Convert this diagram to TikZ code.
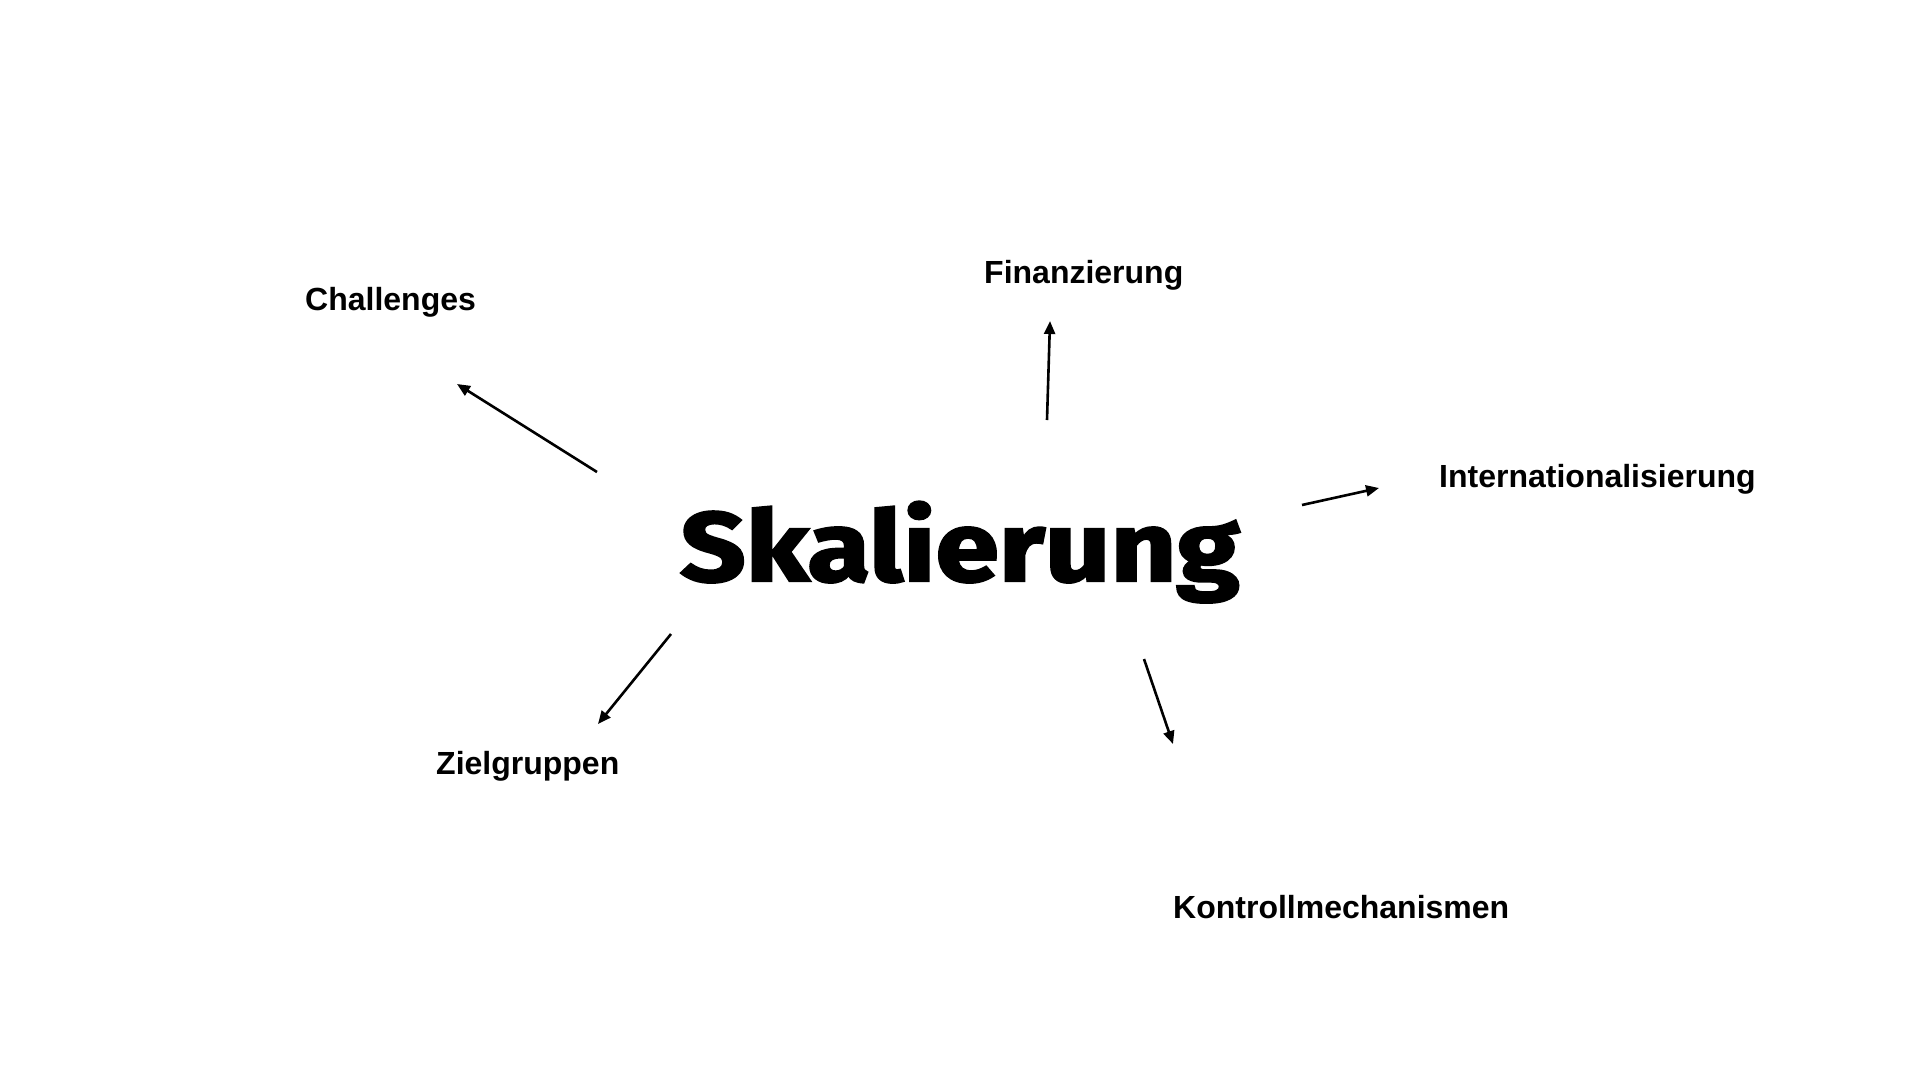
\documentclass[tikz,border=0pt]{standalone}
\usepackage{fontspec}
\setmainfont{Liberation Sans}
\newfontfamily\titlefont{Fira Sans}[FakeBold=2.5, FakeStretch=1.17]
\usetikzlibrary{arrows.meta}

\tikzset{
    topic/.style={anchor=base west, inner sep=0pt,
        font=\bfseries\fontsize{32}{38}\selectfont},
    link/.style={line width=2.6pt, -{Triangle[length=13pt,width=11pt]}}
}

\begin{document}
\begin{tikzpicture}[x=1pt,y=-1pt]
    \useasboundingbox (0,0) rectangle (1920,1080);
    % centre word
    \node[anchor=base west, inner sep=0pt,
          font=\titlefont\bfseries\fontsize{98}{104}\selectfont] (skalierung) at (680,581) {Skalierung};
    % topics around it
    \foreach \name/\x/\y/\txt in {
        challenges/305/310/Challenges,
        finanzierung/984/283/Finanzierung,
        international/1439/487/Internationalisierung,
        zielgruppen/436/774/Zielgruppen,
        kontrolle/1173/918/Kontrollmechanismen} {
        \node[topic] (\name) at (\x,\y) {\txt};
    }
    % arrows
    \foreach \name/\xa/\ya/\xb/\yb in {
        challenges/597/472/457/384,
        finanzierung/1047/420/1050/321,
        international/1302/505/1379/488,
        zielgruppen/671/634/598/724,
        kontrolle/1144/659/1173/744} {
        \coordinate (\name-from) at (\xa,\ya);
        \coordinate (\name-to) at (\xb,\yb);
        \draw[link] (\name-from) -- (\name-to);
    }
\end{tikzpicture}
\end{document}
